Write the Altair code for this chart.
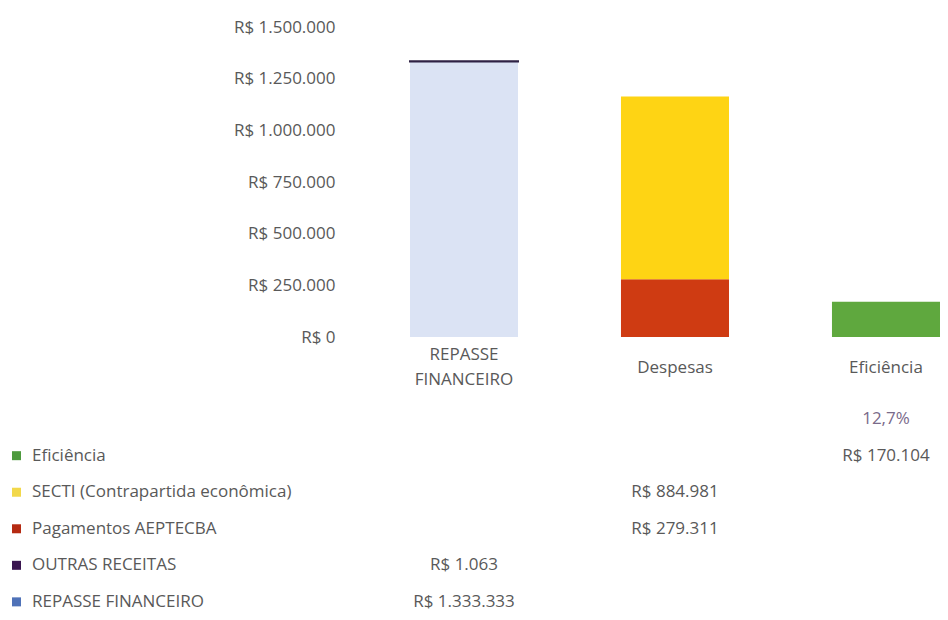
import altair as alt
import pandas as pd

# ---- data ----
categories = ["REPASSE FINANCEIRO", "Despesas", "Eficiência"]

# stacked segments, bottom -> top
series = ["REPASSE FINANCEIRO", "OUTRAS RECEITAS", "Pagamentos AEPTECBA",
          "SECTI (Contrapartida econômica)", "Eficiência"]
series_category = ["REPASSE FINANCEIRO", "REPASSE FINANCEIRO", "Despesas",
                   "Despesas", "Eficiência"]
series_values = [1333333, 1063, 279311, 884981, 170104]
bar_colors = ["#dbe3f4", "#2f2244", "#cf3b12", "#fed414", "#5fa83e"]

# data-table rows, top -> bottom
table_rows = ["Eficiência", "SECTI (Contrapartida econômica)",
              "Pagamentos AEPTECBA", "OUTRAS RECEITAS", "REPASSE FINANCEIRO"]
swatch_colors = ["#4e9a3e", "#f2d84a", "#b52a12", "#3a1650", "#4f72b8"]

pct_category = ["Eficiência"]
pct_values = [0.127]

y_ticks = [0, 250000, 500000, 750000, 1000000, 1250000, 1500000]

TEXT = "#595959"
FS = 17

bars_df = pd.DataFrame({
    "category": series_category,
    "series": series,
    "value": series_values,
    "stack": list(range(len(series))),
})
table_df = pd.DataFrame({
    "row": series,
    "category": series_category,
    "value": series_values,
})
names_df = pd.DataFrame({"row": table_rows})
pct_df = pd.DataFrame({"row": [" "] * len(pct_values),
                       "category": pct_category, "pct": pct_values})

W = 595
x_scale = alt.Scale(type="band", domain=categories, paddingInner=0.488,
                    paddingOuter=0.154, align=1)

top = alt.Chart(bars_df).mark_bar().encode(
    x=alt.X("category:N", sort=categories, scale=x_scale,
            axis=alt.Axis(title=None, labelExpr="split(datum.value, ' ')",
                          labelAngle=0,
                          labelPadding={"condition": {"test": "indexof(datum.value, ' ') >= 0",
                                                      "value": 17.5},
                                        "value": 30},
                          labelBaseline="middle",
                          labelLineHeight=25, ticks=False, tickSize=0,
                          domain=False, labelFontSize=FS, labelColor=TEXT)),
    y=alt.Y("value:Q", stack="zero",
            scale=alt.Scale(domain=[0, 1500000], nice=False),
            axis=alt.Axis(title=None, values=y_ticks, format="$,.0f",
                          grid=False, domain=False, ticks=False, tickSize=0,
                          labelPadding=10, labelFontSize=FS, labelColor=TEXT)),
    color=alt.Color("series:N", scale=alt.Scale(domain=series, range=bar_colors),
                    legend=None),
    stroke=alt.Color("series:N", scale=alt.Scale(domain=series, range=bar_colors),
                     legend=None),
    strokeWidth=alt.condition(alt.datum.series == "OUTRAS RECEITAS",
                              alt.value(2), alt.value(0)),
    order=alt.Order("stack:Q"),
).properties(width=W, height=310)

row_scale = alt.Scale(type="point", domain=[" "] + table_rows, padding=0.25)

swatches = alt.Chart(names_df).mark_square(size=81, opacity=1).encode(
    x=alt.value(-328.5),
    y=alt.Y("row:N", scale=row_scale, axis=None),
    color=alt.Color("row:N", scale=alt.Scale(domain=table_rows, range=swatch_colors),
                    legend=None),
)
names = alt.Chart(names_df).mark_text(align="left", fontSize=FS, color=TEXT).encode(
    x=alt.value(-313),
    y=alt.Y("row:N", scale=row_scale, axis=None),
    text="row:N",
)
values = alt.Chart(table_df).mark_text(align="center", fontSize=FS, color=TEXT).encode(
    x=alt.X("category:N", scale=x_scale, axis=None),
    y=alt.Y("row:N", scale=row_scale, axis=None),
    text=alt.Text("value:Q", format="$,.0f"),
)
pct = alt.Chart(pct_df).mark_text(align="center", fontSize=FS, color="#7a6a8a").encode(
    x=alt.X("category:N", scale=x_scale, axis=None),
    y=alt.Y("row:N", scale=row_scale, axis=None),
    text=alt.Text("pct:Q", format=".1%"),
)
bottom = alt.layer(swatches, names, values, pct).properties(width=W, height=201)

chart = alt.vconcat(top, bottom, spacing=73, bounds="flush").resolve_scale(
    color="independent", stroke="independent"
).properties(
    padding={"left": 4, "top": 10, "right": 0, "bottom": 0}
).configure(
    font="Open Sans",
    locale={"number": {"decimal": ",", "thousands": ".", "grouping": [3],
                       "currency": ["R$ ", ""]}},
).configure_view(stroke=None)

chart.save("out.html", embed_options={"renderer": "svg", "actions": False})
